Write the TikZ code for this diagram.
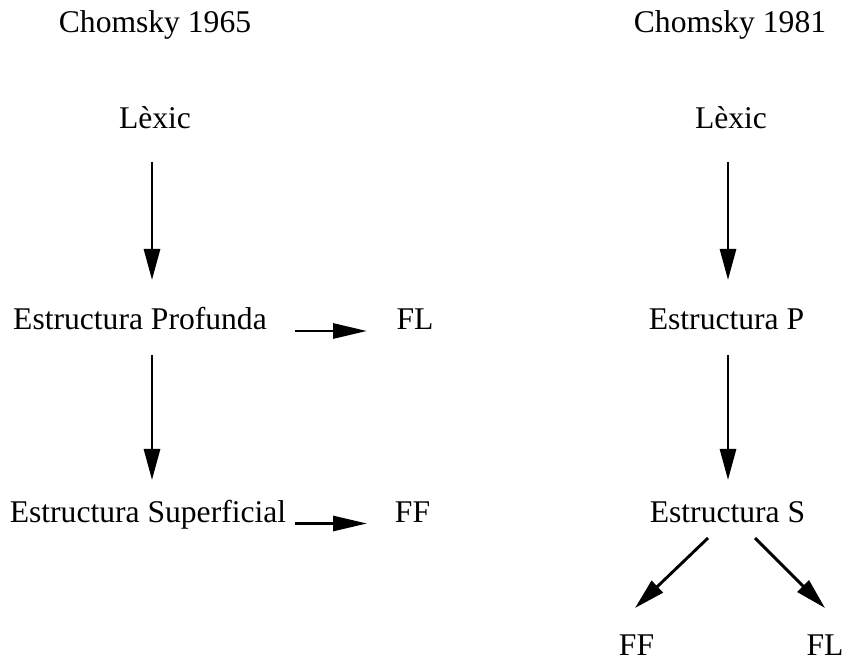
\documentclass[tikz,border=0pt]{standalone}
\usepackage{fontspec}
\setmainfont{Liberation Serif}
\usetikzlibrary{arrows.meta}
\tikzset{
  lbl/.style={anchor=base, inner sep=0pt, font=\fontsize{31.6}{38}\selectfont},
  arr/.style={line width=2.9pt, -{Triangle[length=31pt,width=16pt]}},
  harr/.style={line width=2.9pt, -{Triangle[length=34pt,width=15pt]}}
}
\begin{document}
\begin{tikzpicture}[x=1pt,y=1pt]
\useasboundingbox (0,0) rectangle (845,661);
% left column
\node[lbl] (t1) at (155,628) {Chomsky 1965};
\node[lbl] (lexL) at (155,532) {Lèxic};
\node[lbl] (epL) at (140,331) {Estructura Profunda};
\node[lbl] (flL) at (415,331) {FL};
\node[lbl] (esL) at (148,139) {Estructura Superficial};
\node[lbl] (ffL) at (412.5,139) {FF};
% right column
\node[lbl] (t2) at (730,628) {Chomsky 1981};
\node[lbl] (lexR) at (731,532) {Lèxic};
\node[lbl] (epR) at (726.5,331) {Estructura P};
\node[lbl] (esR) at (727.5,139) {Estructura S};
\node[lbl] (ffR) at (636.5,6) {FF};
\node[lbl] (flR) at (825,6) {FL};
% arrows
\draw[arr] ([shift={(-3,-33)}]lexL.base) -- ([shift={(12,50)}]epL.base);
\draw[arr] ([shift={(12,-25)}]epL.base) -- ([shift={(4,42)}]esL.base);
\draw[harr] ([shift={(155,-1)}]epL.base) -- ([shift={(-48,-1)}]flL.base);
\draw[harr] ([shift={(147,-1.5)}]esL.base) -- ([shift={(-45.5,-1.5)}]ffL.base);
\draw[arr] ([shift={(-3,-33)}]lexR.base) -- ([shift={(1.5,50)}]epR.base);
\draw[arr] ([shift={(1.5,-25)}]epR.base) -- ([shift={(0.5,42)}]esR.base);
\draw[arr] ([shift={(-19.5,-16)}]esR.base) -- ([shift={(-1.5,47)}]ffR.base);
\draw[arr] ([shift={(27.5,-16)}]esR.base) -- ([shift={(0,47)}]flR.base);
\end{tikzpicture}
\end{document}
